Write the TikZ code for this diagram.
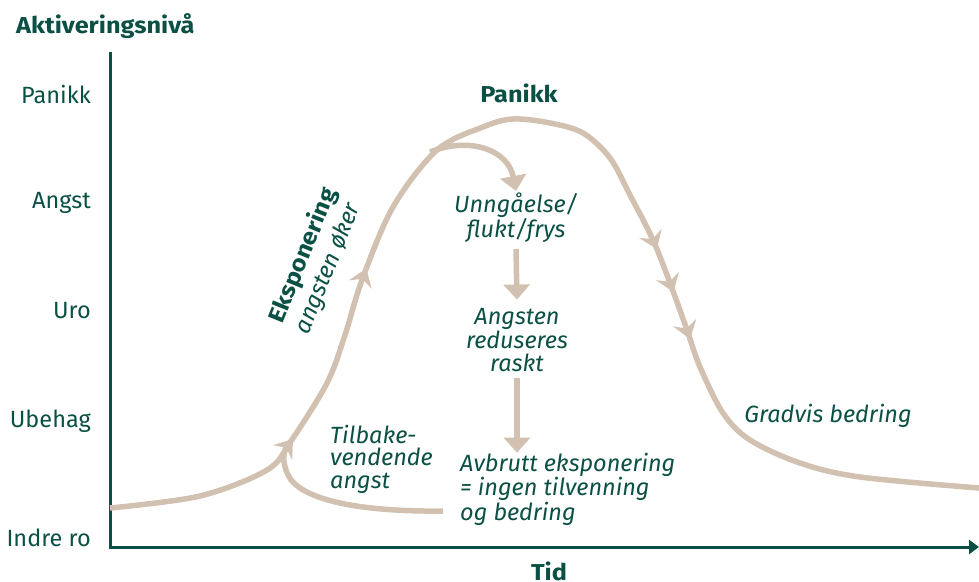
\documentclass[tikz,border=0pt]{standalone}
\usepackage{fontspec}
\setmainfont{Fira Sans}
\newfontfamily\wbold{Fira Sans}[FakeStretch=1.1]
\usetikzlibrary{arrows.meta,decorations.markings,calc}
\definecolor{dgreen}{HTML}{0B5044}
\definecolor{beige}{HTML}{D2C1B1}
\tikzset{
  midtip/.tip={Stealth[length=17pt,width=24pt,inset=6pt]},
  flattip/.tip={Triangle[length=15pt,width=26pt]},
  axistip/.tip={Triangle[length=10pt,width=14pt]}
}
\begin{document}
\begin{tikzpicture}[x=1pt,y=-1pt,
  lab/.style={text=dgreen, inner sep=0pt, font=\fontsize{23.5}{22.5}\selectfont},
  itl/.style={text=dgreen, inner sep=0pt, font=\fontsize{23.5}{22.5}\selectfont\itshape},
  bld/.style={text=dgreen, inner sep=0pt, font=\wbold\fontsize{23}{24}\selectfont\bfseries},
  axisline/.style={draw=dgreen, line width=3pt, line join=miter},
  curve/.style={draw=beige, color=beige, line width=5.5pt}
]
\useasboundingbox (0,0) rectangle (979,581);

% axes
\coordinate (ytop) at (110,52);
\coordinate (origin) at (110,547);
\coordinate (xend) at (979,547);
\draw[axisline, -{axistip}] (ytop) -- (origin) -- (xend);

% axis titles
\node[bld, anchor=base west] (ytitle) at (16,33) {Aktiveringsnivå};
\node[bld, anchor=base] (xtitle) at (549,580) {Tid};

% y labels
\node[lab, anchor=base east] (l1) at (91,103) {Panikk};
\node[lab, anchor=base east] (l2) at (91,208) {Angst};
\node[lab, anchor=base east] (l3) at (91,318) {Uro};
\node[lab, anchor=base east] (l4) at (91,427) {Ubehag};
\node[lab, anchor=base east] (l5) at (91,546) {Indre ro};

% main curve
\draw[curve, postaction={decorate}, decoration={markings,
   mark=at position 0.306 with {\arrow{midtip}},
   mark=at position 0.646 with {\arrow{midtip}},
   mark=at position 0.682 with {\arrow{midtip}},
   mark=at position 0.721 with {\arrow{midtip}}}]
  plot[smooth, tension=0.55] coordinates {
   (110,508) (200,496) (267,470) (291,441) (327,383) (345,335) (362,280)
   (393,207) (437,150) (483,127) (513,119) (550,123) (583,133) (610,158)
   (630,195) (653,240) (670,283) (687,330) (700,367) (723,413) (750,440)
   (800,463) (860,477) (979,488)};

% labels
\node[bld, anchor=base] (panikk) at (519,102) {Panikk};
\node[itl, align=center] (unng) at (516,218) {Unngåelse/\\flukt/frys};
\node[itl, align=center] (ang) at (517,340) {Angsten\\reduseres\\raskt};
\node[itl, align=left, anchor=west] (avb) at (460,489) {Avbrutt eksponering\\= ingen tilvenning\\og bedring};
\node[itl, align=left, anchor=west] (tilb) at (330,459) {Tilbake-\\vendende\\angst};
\node[itl, anchor=base] (grad) at (828,422) {Gradvis bedring};
\node[rotate=68, align=left, text=dgreen, inner sep=0pt] (eksp) at (316,261)
  {{\wbold\fontsize{23}{22.5}\selectfont\bfseries Eksponering}\\[4pt]{\fontsize{23.5}{22.5}\selectfont\itshape angsten øker}};

% branch to avoidance
\coordinate (bstart) at (430,152);
\draw[curve, -{flattip}] (bstart) .. controls (470,136) and (508,150) .. ([yshift=2pt]unng.north);

% vertical arrows
\draw[curve, -{flattip}] ([yshift=-6pt]unng.south) -- ([yshift=9pt]ang.north);
\draw[curve, -{flattip}] ([yshift=-6pt]ang.south) -- (ang.south |- avb.north);

% returning loop
\coordinate (lstart) at (443,511);
\coordinate (ljoin) at (293,439);
\draw[curve, -{midtip}] (lstart) .. controls (360,512) and (300,500) .. (288,475)
   .. controls (282,462) and (283,452) .. (ljoin);
\end{tikzpicture}
\end{document}
